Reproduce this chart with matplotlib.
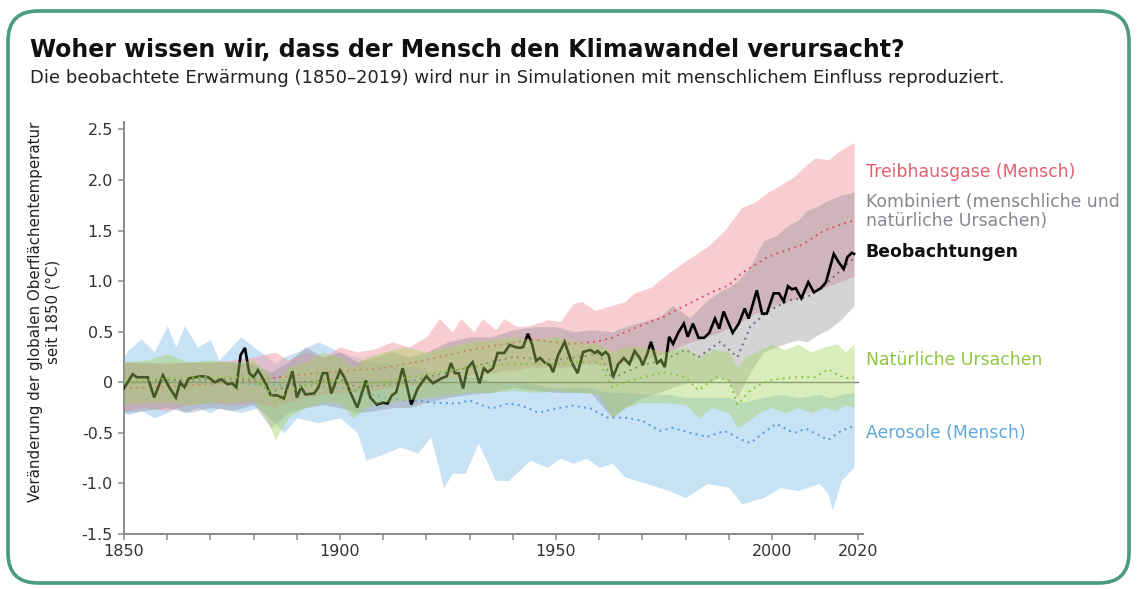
import numpy as np
import matplotlib
matplotlib.use("Agg")
import matplotlib.pyplot as plt
import matplotlib.transforms as mtransforms
from matplotlib.patches import FancyBboxPatch

plt.rcParams["font.family"] = ["DejaVu Sans"]

# ---- data ----

# observations (year, change in deg C)
obs = [
    (1850, -0.06), (1852, 0.08), (1853, 0.05), (1855.5, 0.05), (1857, -0.15),
    (1859, 0.07), (1860.5, -0.05), (1862, -0.15), (1863, 0.0), (1864, -0.05),
    (1865, 0.04), (1868, 0.06), (1869.5, 0.05), (1871, 0.0), (1872.5, 0.03),
    (1874, -0.02), (1875, -0.01), (1876, -0.05), (1877, 0.27), (1878, 0.34),
    (1879, 0.09), (1880, 0.05), (1881, 0.12), (1882, 0.05), (1883, -0.03),
    (1884, -0.13), (1885.5, -0.13), (1887, -0.16), (1889, 0.11), (1890, -0.15),
    (1891, -0.05), (1892, -0.12), (1894, -0.11), (1895, -0.05), (1896, 0.09),
    (1897, 0.09), (1898, -0.11), (1900, 0.12), (1901, 0.05), (1902.5, -0.11),
    (1904, -0.25), (1906, 0.02), (1907, -0.15), (1908.5, -0.22), (1910, -0.2),
    (1911, -0.21), (1912, -0.13), (1913, -0.1), (1914.5, 0.14), (1916.5, -0.22),
    (1918, -0.06), (1920, 0.06), (1921.5, -0.01), (1923.5, 0.04), (1924.7, 0.06),
    (1925.7, 0.19), (1926.6, 0.09), (1927.5, 0.09), (1928.5, -0.06), (1929.5, 0.14),
    (1930.7, 0.2), (1932.3, -0.01), (1933.3, 0.14), (1934.2, 0.1), (1935.4, 0.14),
    (1936.5, 0.29), (1938, 0.29), (1939.3, 0.37), (1940.5, 0.35), (1941.7, 0.34),
    (1942.4, 0.35), (1943.5, 0.48), (1944.5, 0.37), (1945.4, 0.21), (1946.3, 0.24),
    (1947.5, 0.19), (1948.6, 0.17), (1949.3, 0.1), (1950.5, 0.27), (1952, 0.4),
    (1953.7, 0.19), (1955, 0.09), (1956.3, 0.3), (1957.9, 0.32), (1959, 0.29),
    (1959.7, 0.31), (1960.6, 0.27), (1961.5, 0.3), (1962.2, 0.27), (1963.2, 0.05),
    (1964.4, 0.18), (1965.7, 0.24), (1967, 0.18), (1968.2, 0.31), (1969.4, 0.24),
    (1970.1, 0.17), (1971.2, 0.29), (1972, 0.4), (1973.4, 0.19), (1974.3, 0.22),
    (1975.2, 0.15), (1976.2, 0.45), (1977.1, 0.38), (1978.3, 0.49), (1979.6, 0.58),
    (1980.5, 0.45), (1981.7, 0.58), (1983, 0.44), (1984.3, 0.44), (1985.5, 0.49),
    (1986.8, 0.63), (1987.8, 0.53), (1988.8, 0.7), (1989.8, 0.6), (1990.9, 0.49),
    (1992.3, 0.58), (1993.7, 0.73), (1994.6, 0.63), (1996.5, 0.91), (1997.7, 0.68),
    (1998.8, 0.68), (2000.4, 0.88), (2001.6, 0.88), (2002.7, 0.8), (2003.7, 0.95),
    (2004.6, 0.92), (2005.5, 0.93), (2006.8, 0.83), (2008.4, 0.99), (2009.7, 0.89),
    (2011.3, 0.93), (2012.5, 0.99), (2014.3, 1.27), (2015.4, 1.19), (2016.6, 1.12),
    (2017.5, 1.24), (2018.5, 1.28), (2019, 1.27),
]

# greenhouse gases (red)
ghg_band_x = [1850, 1855, 1860, 1865, 1870, 1875, 1880, 1885, 1888, 1892, 1896, 1900,
              1904, 1908, 1912, 1916, 1920, 1923, 1926, 1928, 1931, 1933, 1936, 1938,
              1941, 1944, 1948, 1951, 1954, 1956, 1959, 1963, 1966, 1968, 1972, 1976,
              1980, 1985, 1989, 1993, 1996, 1999, 2002, 2005, 2008, 2010, 2013, 2016, 2019]
ghg_hi = [0.2, 0.18, 0.2, 0.2, 0.2, 0.22, 0.25, 0.3, 0.22, 0.3, 0.25, 0.35,
          0.3, 0.33, 0.4, 0.35, 0.45, 0.63, 0.5, 0.63, 0.5, 0.63, 0.52, 0.63,
          0.55, 0.56, 0.62, 0.6, 0.78, 0.8, 0.71, 0.76, 0.8, 0.88, 0.94, 1.08,
          1.2, 1.34, 1.5, 1.73, 1.78, 1.88, 1.95, 2.03, 2.15, 2.22, 2.2, 2.3, 2.37]
ghg_lo = [-0.28, -0.25, -0.28, -0.22, -0.2, -0.22, -0.2, -0.25, -0.2, -0.15, -0.12, -0.1,
          -0.1, -0.08, -0.05, -0.03, 0.0, 0.02, 0.05, 0.05, 0.08, 0.08, 0.1, 0.12,
          0.12, 0.15, 0.15, 0.15, 0.15, 0.18, 0.18, 0.15, 0.2, 0.22, 0.25, 0.3,
          0.38, 0.45, 0.52, 0.6, 0.68, 0.72, 0.78, 0.82, 0.88, 0.9, 0.95, 1.0, 1.05]
ghg_mid_x = [1850, 1860, 1870, 1880, 1890, 1900, 1910, 1920, 1930, 1938, 1945, 1953, 1959,
             1963, 1969, 1975, 1979, 1986, 1990, 1993, 1999, 2003, 2007, 2012, 2016, 2019]
ghg_mid = [-0.06, -0.04, -0.02, 0.02, 0.07, 0.11, 0.14, 0.22, 0.32, 0.38, 0.42, 0.38, 0.4,
           0.44, 0.55, 0.65, 0.74, 0.89, 0.96, 1.08, 1.24, 1.3, 1.36, 1.5, 1.56, 1.6]

# combined human + natural (grey)
comb_band_x = [1850, 1855, 1860, 1865, 1870, 1875, 1880, 1884, 1888, 1892, 1896, 1900,
               1904, 1908, 1912, 1916, 1920, 1925, 1930, 1935, 1940, 1945, 1950, 1954,
               1958, 1963, 1966, 1970, 1974, 1977, 1981, 1985, 1988, 1990, 1992, 1995,
               1998, 2001, 2003, 2006, 2008, 2011, 2013, 2016, 2019]
comb_hi = [0.2, 0.2, 0.18, 0.2, 0.2, 0.2, 0.18, 0.1, 0.2, 0.35, 0.25, 0.3,
           0.2, 0.25, 0.3, 0.25, 0.3, 0.4, 0.45, 0.45, 0.52, 0.55, 0.55, 0.5,
           0.52, 0.5, 0.55, 0.6, 0.65, 0.76, 0.64, 0.81, 0.9, 0.94, 1.0, 1.15,
           1.4, 1.45, 1.53, 1.6, 1.7, 1.75, 1.8, 1.85, 1.88]
comb_lo = [-0.3, -0.28, -0.25, -0.3, -0.25, -0.28, -0.22, -0.45, -0.3, -0.25, -0.22, -0.25,
           -0.3, -0.28, -0.25, -0.25, -0.2, -0.15, -0.12, -0.1, -0.05, -0.08, -0.1, -0.1,
           -0.1, -0.35, -0.25, -0.15, -0.1, -0.05, 0.0, 0.0, 0.05, 0.0, -0.15, 0.1,
           0.3, 0.35, 0.38, 0.42, 0.4, 0.48, 0.52, 0.62, 0.76]
comb_mid_x = [1850, 1860, 1870, 1880, 1884, 1890, 1900, 1904, 1910, 1915, 1920, 1930, 1940,
              1950, 1960, 1963, 1966, 1970, 1975, 1980, 1983, 1988, 1992, 1995, 1999, 2004,
              2008, 2012, 2015, 2019]
comb_mid = [0.0, 0.02, 0.03, 0.03, -0.1, 0.0, 0.03, -0.05, -0.03, 0.0, 0.05, 0.15, 0.25,
            0.22, 0.28, 0.03, 0.1, 0.17, 0.22, 0.32, 0.25, 0.4, 0.25, 0.55, 0.7, 0.81,
            0.84, 0.95, 1.07, 1.23]

# natural only (green)
nat_band_x = [1850, 1855, 1860, 1865, 1870, 1875, 1880, 1883, 1885, 1888, 1892, 1896,
              1900, 1903, 1906, 1910, 1915, 1920, 1925, 1930, 1935, 1940, 1945, 1950,
              1955, 1960, 1963, 1966, 1970, 1975, 1980, 1983, 1986, 1990, 1992, 1994,
              1997, 2000, 2003, 2006, 2009, 2012, 2015, 2017, 2019]
nat_hi = [0.2, 0.22, 0.28, 0.2, 0.22, 0.2, 0.22, 0.1, 0.0, 0.15, 0.2, 0.3,
          0.25, 0.15, 0.25, 0.3, 0.35, 0.3, 0.35, 0.4, 0.42, 0.45, 0.42, 0.45,
          0.4, 0.38, 0.3, 0.35, 0.35, 0.3, 0.35, 0.25, 0.33, 0.3, 0.15, 0.25,
          0.32, 0.38, 0.32, 0.38, 0.3, 0.35, 0.38, 0.3, 0.38]
nat_lo = [-0.22, -0.2, -0.2, -0.22, -0.2, -0.2, -0.18, -0.35, -0.57, -0.35, -0.25, -0.2,
          -0.2, -0.35, -0.25, -0.2, -0.18, -0.15, -0.12, -0.1, -0.1, -0.08, -0.1, -0.08,
          -0.1, -0.12, -0.35, -0.25, -0.2, -0.2, -0.22, -0.35, -0.25, -0.3, -0.45, -0.4,
          -0.3, -0.25, -0.3, -0.25, -0.3, -0.25, -0.28, -0.22, -0.25]
nat_mid_x = [1850, 1860, 1870, 1880, 1883, 1885, 1888, 1895, 1900, 1903, 1906, 1912, 1920,
             1930, 1940, 1950, 1955, 1960, 1963, 1966, 1970, 1975, 1980, 1983, 1987, 1990,
             1992, 1995, 1998, 2001, 2005, 2010, 2013, 2015, 2017, 2019]
nat_mid = [0.0, 0.04, 0.05, 0.05, -0.05, -0.2, -0.08, 0.0, 0.02, -0.1, -0.02, 0.02, 0.08,
           0.15, 0.18, 0.18, 0.2, 0.2, -0.05, 0.0, 0.05, 0.1, 0.05, -0.08, 0.05, 0.02,
           -0.22, -0.08, 0.0, 0.03, 0.05, 0.05, 0.13, 0.08, 0.04, 0.05]

# aerosols (blue)
aer_band_x = [1850, 1851, 1854, 1857, 1860, 1862, 1864, 1867, 1870, 1872, 1877, 1881,
              1885, 1887, 1890, 1895, 1900, 1904, 1906, 1910, 1914, 1918, 1921, 1924,
              1926, 1929, 1932, 1936, 1939, 1944, 1948, 1951, 1954, 1957, 1960, 1963,
              1966, 1971, 1976, 1980, 1985, 1990, 1993, 1998, 2002, 2006, 2011, 2013,
              2014, 2016, 2019]
aer_hi = [0.25, 0.32, 0.43, 0.3, 0.56, 0.35, 0.56, 0.35, 0.42, 0.22, 0.45, 0.32,
          0.19, 0.25, 0.3, 0.4, 0.3, 0.25, 0.2, 0.2, 0.15, 0.15, 0.1, 0.05,
          0.05, 0.05, 0.05, 0.0, 0.0, 0.0, -0.05, -0.05, -0.05, -0.05, -0.08, -0.1,
          -0.1, -0.12, -0.12, -0.15, -0.15, -0.15, -0.2, -0.15, -0.12, -0.15, -0.12, -0.15,
          -0.15, -0.12, -0.1]
aer_lo = [-0.3, -0.32, -0.28, -0.35, -0.3, -0.25, -0.3, -0.25, -0.3, -0.25, -0.3, -0.25,
          -0.4, -0.5, -0.35, -0.4, -0.35, -0.5, -0.77, -0.71, -0.64, -0.7, -0.54, -1.04,
          -0.9, -0.9, -0.6, -0.97, -0.97, -0.77, -0.84, -0.75, -0.8, -0.75, -0.84, -0.8,
          -0.94, -1.0, -1.07, -1.14, -1.0, -1.04, -1.2, -1.14, -1.04, -1.07, -1.0, -1.1,
          -1.27, -0.97, -0.84]
aer_mid_x = [1850, 1860, 1870, 1880, 1890, 1900, 1905, 1910, 1915, 1918, 1921, 1927, 1930,
             1935, 1939, 1942, 1946, 1950, 1954, 1958, 1962, 1966, 1970, 1974, 1977, 1981,
             1985, 1989, 1993, 1995, 1998, 2001, 2005, 2008, 2013, 2016, 2019]
aer_mid = [0.0, 0.02, 0.0, -0.02, -0.03, -0.05, -0.1, -0.15, -0.18, -0.18, -0.2, -0.21, -0.18,
           -0.26, -0.21, -0.23, -0.3, -0.26, -0.23, -0.26, -0.35, -0.35, -0.38, -0.48, -0.45,
           -0.5, -0.54, -0.48, -0.57, -0.6, -0.5, -0.41, -0.5, -0.46, -0.57, -0.48, -0.43]

yticks = [-1.5, -1.0, -0.5, 0, 0.5, 1.0, 1.5, 2.0, 2.5]
ytick_labels = ["-1.5", "-1.0", "-0.5", "0", "0.5", "1.0", "1.5", "2.0", "2.5"]
xticks_major = [1850, 1900, 1950, 2000, 2020]
xticks_minor = [1860, 1870, 1880, 1890, 1910, 1920, 1930, 1940, 1960, 1970, 1980, 1990, 2010]

title = "Woher wissen wir, dass der Mensch den Klimawandel verursacht?"
subtitle = ("Die beobachtete Erwärmung (1850–2019) wird nur in Simulationen "
            "mit menschlichem Einfluss reproduziert.")
ylabel = "Veränderung der globalen Oberflächentemperatur\nseit 1850 (°C)"

# right-hand labels: text, y position (data), colour, weight
labels = [
    ("Treibhausgase (Mensch)", 2.08, "#e0606c", "normal"),
    ("Kombiniert (menschliche und\nnatürliche Ursachen)", 1.69, "#86868e", "normal"),
    ("Beobachtungen", 1.29, "#111111", "bold"),
    ("Natürliche Ursachen", 0.22, "#8dc63f", "normal"),
    ("Aerosole (Mensch)", -0.5, "#5fa8dc", "normal"),
]

# ---- figure ----
W, H = 1137, 589
fig = plt.figure(figsize=(W / 100, H / 100), dpi=100)
fig.patch.set_facecolor("white")

# rounded frame, drawn in pixel units
bg = fig.add_axes([0, 0, 1, 1], zorder=0)
bg.set_xlim(0, W)
bg.set_ylim(H, 0)
bg.axis("off")
frame = FancyBboxPatch((8, 11), 1121, 572,
                       boxstyle="round,pad=0,rounding_size=30",
                       ec="#4a9c7c", fc="white", lw=2.6)
bg.add_patch(frame)

fig.text(30 / W, 1 - 50 / H, title, fontsize=17, fontweight="bold",
         color="#111111", va="center", ha="left")
fig.text(30 / W, 1 - 78 / H, subtitle, fontsize=13, color="#222222",
         va="center", ha="left")
fig.text(44 / W, 1 - 312 / H, ylabel, fontsize=10.8, color="#222222",
         rotation=90, ha="center", va="center", multialignment="center",
         linespacing=1.2)

ax = fig.add_axes([124 / W, 55 / H, (862.7 - 124) / W, (534 - 122.4) / H], zorder=1)
ax.set_facecolor("none")
ax.set_xlim(1850, 2021)
ax.set_ylim(-1.5, 2.57)

ax.fill_between(aer_band_x, aer_lo, aer_hi, color="#a6cff0", alpha=0.62, lw=0, zorder=1)
ax.fill_between(ghg_band_x, ghg_lo, ghg_hi, color="#f3a4ad", alpha=0.55, lw=0, zorder=2)
ax.fill_between(comb_band_x, comb_lo, comb_hi, color="#8e8e98", alpha=0.38, lw=0, zorder=3)

dot = (0, (1, 2.2))
ax.plot(aer_mid_x, aer_mid, color="#5b9bd5", ls=dot, lw=1.4, zorder=4)
ax.plot(ghg_mid_x, ghg_mid, color="#e05560", ls=dot, lw=1.4, zorder=4)
ax.plot(comb_mid_x, comb_mid, color="#6e6e7a", ls=dot, lw=1.4, zorder=4)

ax.plot([1850, 2020], [0, 0], color="#7a7a7a", lw=1.0, zorder=5)

obs_x = [p[0] for p in obs]
obs_y = [p[1] for p in obs]
ax.plot(obs_x, obs_y, color="black", lw=1.9, zorder=6, solid_joinstyle="miter")

ax.fill_between(nat_band_x, nat_lo, nat_hi, color="#a5d25e", alpha=0.42, lw=0, zorder=7)
ax.plot(nat_mid_x, nat_mid, color="#8cc63f", ls=dot, lw=1.4, zorder=8)

for s in ["top", "right"]:
    ax.spines[s].set_visible(False)
for s in ["left", "bottom"]:
    ax.spines[s].set_color("#8a8a8a")
    ax.spines[s].set_linewidth(1.4)

ax.set_yticks(yticks)
ax.set_yticklabels(ytick_labels)
ax.set_xticks(xticks_major)
ax.set_xticks(xticks_minor, minor=True)
ax.set_xticklabels([str(x) for x in xticks_major])
ax.tick_params(axis="both", which="both", direction="out", length=4.5, width=1.1,
               color="#8a8a8a", labelcolor="#333333", labelsize=11.5)
ax.tick_params(axis="x", pad=3)

trans = mtransforms.blended_transform_factory(ax.transAxes, ax.transData)
for text, yv, col, wt in labels:
    ax.text(1.004, yv, text, transform=trans, fontsize=12.4, color=col,
            fontweight=wt, ha="left", va="center", linespacing=1.05, clip_on=False)

fig.savefig("out.png", dpi=100, facecolor="white")
